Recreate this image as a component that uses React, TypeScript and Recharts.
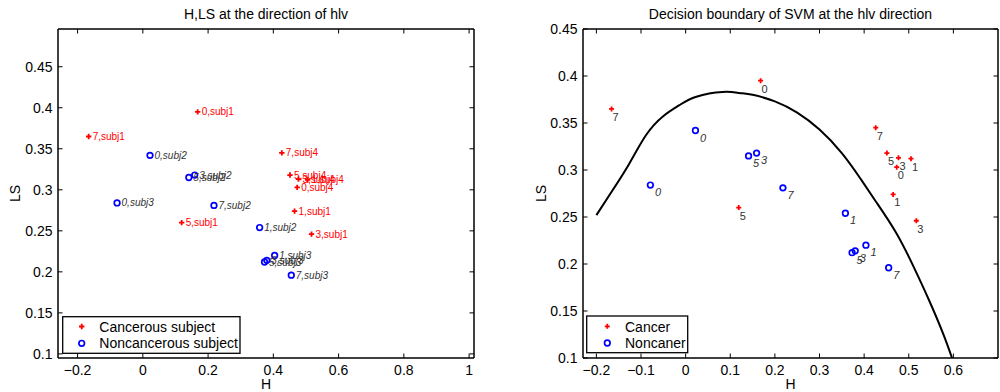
import React from "react";
import { ComposedChart, Scatter, Line, XAxis, YAxis } from "recharts";

// cancerous subjects (red +)
const cancerH = [0.168, -0.166, 0.426, 0.451, 0.477, 0.505, 0.473, 0.465, 0.119, 0.517];
const cancerLS = [0.395, 0.365, 0.345, 0.318, 0.313, 0.312, 0.303, 0.274, 0.26, 0.246];
const cancerSession = ["0", "7", "7", "5", "3", "1", "0", "1", "5", "3"];
const cancerSubject = ["subj1", "subj1", "subj4", "subj4", "subj4", "subj4", "subj4", "subj1", "subj1", "subj1"];

// noncancerous subjects (blue o)
const normalH = [0.022, 0.159, 0.141, -0.079, 0.218, 0.358, 0.404, 0.373, 0.38, 0.455];
const normalLS = [0.342, 0.318, 0.315, 0.284, 0.281, 0.254, 0.22, 0.212, 0.214, 0.196];
const normalSession = ["0", "3", "5", "0", "7", "1", "1", "5", "3", "7"];
const normalSubject = ["subj2", "subj2", "subj2", "subj3", "subj2", "subj2", "subj3", "subj3", "subj3", "subj3"];

// SVM decision boundary
const boundaryH = [-0.2, -0.163, -0.126, -0.089, -0.051, -0.014, 0.024, 0.083, 0.12, 0.15, 0.2, 0.25, 0.3, 0.35, 0.39, 0.427, 0.472, 0.511, 0.545, 0.577, 0.597];
const boundaryLS = [0.252, 0.279, 0.307, 0.337, 0.357, 0.369, 0.378, 0.383, 0.382, 0.38, 0.373, 0.361, 0.343, 0.318, 0.292, 0.266, 0.233, 0.197, 0.162, 0.126, 0.1];

const leftXTicks = [-0.2, 0, 0.2, 0.4, 0.6, 0.8, 1];
const rightXTicks = [-0.2, -0.1, 0, 0.1, 0.2, 0.3, 0.4, 0.5, 0.6];
const yTicks = [0.1, 0.15, 0.2, 0.25, 0.3, 0.35, 0.4, 0.45];

const cancer = cancerH.map((h, i) => ({ h, ls: cancerLS[i], session: cancerSession[i], subj: cancerSubject[i] }));
const normal = normalH.map((h, i) => ({ h, ls: normalLS[i], session: normalSession[i], subj: normalSubject[i] }));
const boundary = boundaryH.map((h, i) => ({ h, ls: boundaryLS[i] }));

const FONT = "'Liberation Sans', Arial, Helvetica, sans-serif";
const RED = "#ff0000";
const BLUE = "#0000ff";
const GRAY = "#333333";

const fmt = (v: number) => (v < 0 ? "\u2212" + Math.abs(v) : String(v));
const blank = () => "";
const noShape = () => <g />;

const plus = (cx: number, cy: number, s = 2.7) => (
  <path d={`M${cx - s},${cy}h${2 * s}M${cx},${cy - s}v${2 * s}`} stroke={RED} strokeWidth={1.8} />
);
const ring = (cx: number, cy: number) => (
  <circle cx={cx} cy={cy} r={2.8} fill="none" stroke={BLUE} strokeWidth={1.7} />
);

const LeftCancer = (p: any) => (
  <g>
    {plus(p.cx, p.cy)}
    <text x={p.cx + 4} y={p.cy + 3.5} fontSize={10} fill={RED} fontFamily={FONT}>
      {p.payload.session + "," + p.payload.subj}
    </text>
  </g>
);
const LeftNormal = (p: any) => (
  <g>
    {ring(p.cx, p.cy)}
    <text x={p.cx + 4.5} y={p.cy + 3.5} fontSize={10} fill={GRAY} fontStyle="italic" fontFamily={FONT}>
      {p.payload.session + "," + p.payload.subj}
    </text>
  </g>
);
const RightCancer = (p: any) => (
  <g>
    {plus(p.cx, p.cy, 2.5)}
    <text x={p.cx + 1} y={p.cy + 12} fontSize={11} fill={GRAY} fontFamily={FONT}>
      {p.payload.session}
    </text>
  </g>
);
const RightNormal = (p: any) => (
  <g>
    {ring(p.cx, p.cy)}
    <text x={p.cx + 4.5} y={p.cy + 11} fontSize={11} fill={GRAY} fontStyle="italic" fontFamily={FONT}>
      {p.payload.session}
    </text>
  </g>
);

const tickStyle = { fontSize: 14, fill: "#000", fontFamily: FONT };
const axisLine = { stroke: "#000", strokeWidth: 1.5 };
const tickLine = { stroke: "#000" };

// four axes with inward ticks, like a boxed matlab axes
function boxAxes(xDomain: number[], yDomain: number[], xTicks: number[]) {
  return [
    <XAxis key="xb" xAxisId="b" type="number" dataKey="h" domain={xDomain} ticks={xTicks} allowDataOverflow
      tickFormatter={fmt} tick={tickStyle} tickSize={-4.5} tickMargin={12} height={31}
      axisLine={axisLine} tickLine={tickLine} />,
    <XAxis key="xt" xAxisId="t" orientation="top" type="number" dataKey="h" domain={xDomain} ticks={xTicks} allowDataOverflow
      tickFormatter={blank} tick={tickStyle} tickSize={-4.5} height={1} axisLine={axisLine} tickLine={tickLine} />,
    <YAxis key="yl" yAxisId="l" type="number" dataKey="ls" domain={yDomain} ticks={yTicks} allowDataOverflow
      tickFormatter={fmt} tick={tickStyle} tickSize={-4.5} tickMargin={10} width={50}
      axisLine={axisLine} tickLine={tickLine} />,
    <YAxis key="yr" yAxisId="r" orientation="right" type="number" dataKey="ls" domain={yDomain} ticks={yTicks} allowDataOverflow
      tickFormatter={blank} tick={tickStyle} tickSize={-4.5} width={1} axisLine={axisLine} tickLine={tickLine} />,
    // invisible series so the top/right axes get drawn
    <Scatter key="mirror" xAxisId="t" yAxisId="r" data={cancer} shape={noShape} isAnimationActive={false} />,
  ];
}

export default function App() {
  const chartBox = (left: number): React.CSSProperties => ({ position: "absolute", left, top: 0, width: 500, height: 392 });
  return (
    <div style={{ position: "absolute", left: 0, top: 0, width: 1000, height: 392, background: "#fff" }}>
      <div style={chartBox(0)}>
        <ComposedChart width={500} height={392} margin={{ top: 28, right: 25, bottom: 3, left: 8 }}>
          {boxAxes([-0.26, 1.015], [0.095, 0.496], leftXTicks)}
          <Scatter xAxisId="b" yAxisId="l" data={cancer} shape={LeftCancer} isAnimationActive={false} />
          <Scatter xAxisId="b" yAxisId="l" data={normal} shape={LeftNormal} isAnimationActive={false} />
        </ComposedChart>
      </div>
      <div style={chartBox(500)}>
        <ComposedChart width={500} height={392} margin={{ top: 28, right: 1, bottom: 3, left: 33 }}>
          {boxAxes([-0.23, 0.7], [0.1, 0.45], rightXTicks)}
          <Line xAxisId="b" yAxisId="l" data={boundary} dataKey="ls" type="natural" stroke="#000" strokeWidth={2}
            dot={false} activeDot={false} isAnimationActive={false} />
          <Scatter xAxisId="b" yAxisId="l" data={cancer} shape={RightCancer} isAnimationActive={false} />
          <Scatter xAxisId="b" yAxisId="l" data={normal} shape={RightNormal} isAnimationActive={false} />
        </ComposedChart>
      </div>
      <svg width={1000} height={392} style={{ position: "absolute", left: 0, top: 0, pointerEvents: "none" }} fontFamily={FONT}>
        <text x={266} y={19} fontSize={14} textAnchor="middle" fill="#000">H,LS at the direction of hlv</text>
        <text x={790.5} y={19} fontSize={14} textAnchor="middle" fill="#000">Decision boundary of SVM at the hlv direction</text>
        <text x={266} y={389} fontSize={14} textAnchor="middle" fill="#000">H</text>
        <text x={790.5} y={389} fontSize={14} textAnchor="middle" fill="#000">H</text>
        <text x={20} y={193.5} fontSize={14} textAnchor="middle" fill="#000" transform="rotate(-90 20 193.5)">LS</text>
        <text x={546} y={193.5} fontSize={14} textAnchor="middle" fill="#000" transform="rotate(-90 546 193.5)">LS</text>

        <rect x={62.7} y={316.7} width={177.3} height={36.6} fill="#fff" stroke="#000" strokeWidth={1.3} />
        {plus(81.7, 326.5)}
        {ring(81.7, 343.3)}
        <text x={99.3} y={331.7} fontSize={14} fill="#000">Cancerous subject</text>
        <text x={99.3} y={348.3} fontSize={14} fill="#000">Noncancerous subject</text>

        <rect x={586.7} y={316} width={101} height={36.7} fill="#fff" stroke="#000" strokeWidth={1.3} />
        {plus(607.3, 326.3, 2.5)}
        {ring(607.3, 343)}
        <text x={625} y={331.7} fontSize={14} fill="#000">Cancer</text>
        <text x={625} y={348.3} fontSize={14} fill="#000">Noncaner</text>
      </svg>
    </div>
  );
}
